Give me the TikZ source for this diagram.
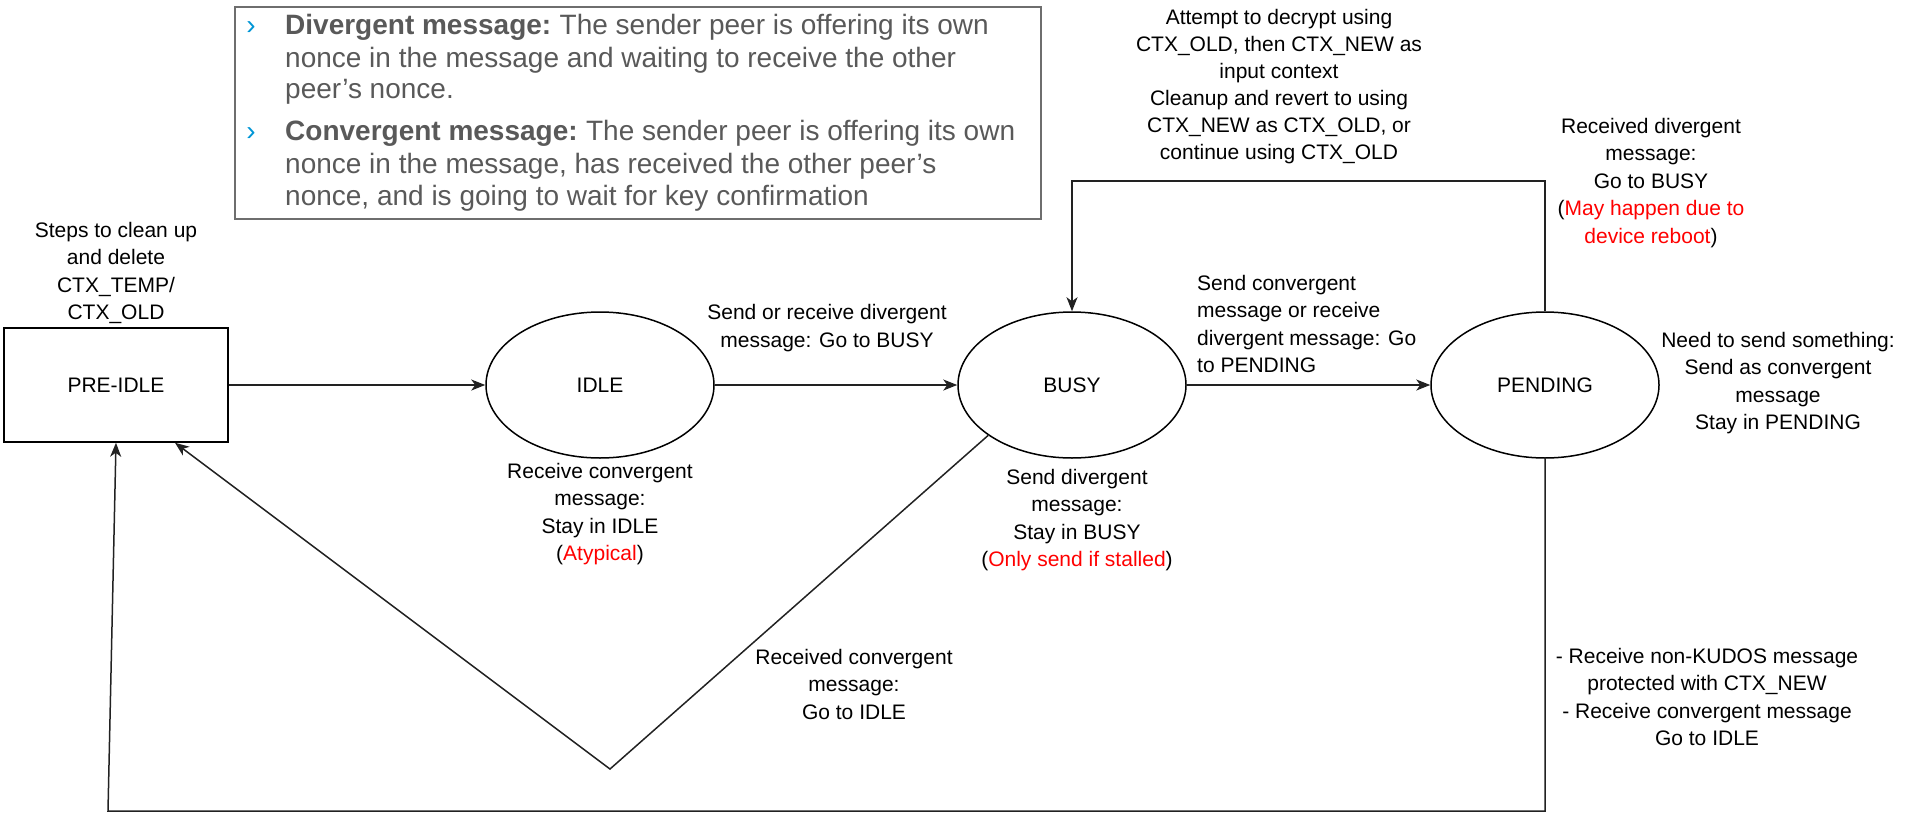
\documentclass[tikz,border=0pt]{standalone}
\usepackage{fontspec}
\setmainfont{Liberation Sans}
\usetikzlibrary{shapes.geometric,arrows.meta,calc}
\definecolor{legtxt}{HTML}{595959}
\definecolor{legblue}{HTML}{0096D6}
\definecolor{legline}{HTML}{6E6E6E}
\definecolor{conline}{HTML}{222222}
\begin{document}
\begin{tikzpicture}[x=1pt,y=-1pt,
  state/.style={draw,ellipse,line width=1.5pt,minimum width=228pt,minimum height=146pt,inner sep=0pt,font=\fontsize{21}{25}\selectfont},
  prebox/.style={draw,rectangle,line width=1.5pt,minimum width=224pt,minimum height=114pt,inner sep=0pt,font=\fontsize{21}{25}\selectfont},
  lbl/.style={align=center,font=\fontsize{21}{27.5}\selectfont,inner sep=0pt},
  arr/.style={draw=conline,line width=1.5pt,-{Stealth[length=14pt,width=11pt,inset=4pt]}},
  leg/.style={anchor=base west,inner sep=0pt,text=legtxt,font=\fontsize{28}{32}\selectfont},
  bul/.style={anchor=base,inner sep=0pt,text=legblue,font=\fontsize{28}{32}\selectfont}
]
\useasboundingbox (0,0) rectangle (1919,814);

% legend
\node[draw=legline,line width=1.5pt,minimum width=806pt,minimum height=212pt,inner sep=0pt,anchor=north west] (legend) at (234,6) {};
\node[bul] (b1) at (251,34) {›};
\node[leg] (l1) at (285,34) {\textbf{Divergent message:}\kern-2pt{} The sender peer is offering its own};
\node[leg] (l2) at (285,67) {nonce in the message and waiting to receive the other};
\node[leg] (l3) at (285,98) {peer’s nonce.};
\node[bul] (b2) at (251,140) {›};
\node[leg] (l4) at (285,140) {\textbf{Convergent message:}\kern-2pt{} The sender peer is offering its own};
\node[leg] (l5) at (285,173) {nonce in the message, has received the other peer’s};
\node[leg] (l6) at (285,205) {nonce, and is going to wait for key confirmation};

% states
\node[prebox] (pre) at (116,385) {PRE-IDLE};
\node[state] (idle) at (600,385) {IDLE};
\node[state] (busy) at (1072,385) {BUSY};
\node[state] (pend) at (1545,385) {PENDING};

% labels
\node[lbl] (tpre) at (116,273) {Steps to clean up\\and delete\\CTX\_TEMP/\\CTX\_OLD};
\node[lbl] (t1) at (827,328) {Send or receive divergent\\message: Go to BUSY};
\node[lbl] (t2) at (600,514) {Receive convergent\\message:\\Stay in IDLE\\(\textcolor{red}{Atypical})};
\node[lbl] (t3) at (1077,520) {Send divergent\\message:\\Stay in BUSY\\(\textcolor{red}{Only send if stalled})};
\node[lbl,align=left,anchor=west] (t4) at (1197,324) {Send convergent\\message or receive\\divergent message: Go\\to PENDING};
\node[lbl,font=\fontsize{21}{27}\selectfont] (t5) at (1279,87) {Attempt to decrypt using\\CTX\_OLD, then CTX\_NEW as\\input context\\Cleanup and revert to using\\CTX\_NEW as CTX\_OLD, or\\continue using CTX\_OLD};
\node[lbl] (t6) at (1651,183) {Received divergent\\message:\\Go to BUSY\\(\textcolor{red}{May happen due to}\\\textcolor{red}{device reboot})};
\node[lbl] (t7) at (1778,383) {Need to send something:\\Send as convergent\\message\\Stay in PENDING};
\node[lbl] (t8) at (854,684) {Received convergent\\message:\\Go to IDLE};
\node[lbl] (t9) at (1707,697) {- Receive non-KUDOS message\\protected with CTX\_NEW\\- Receive convergent message\\Go to IDLE};

% connectors
\coordinate (tl) at (1072,181);
\coordinate (bl) at (108,811);
\coordinate (vb) at (610,769);
\draw[arr] (pre) -- (idle);
\draw[arr] (idle) -- (busy);
\draw[arr] (busy) -- (pend);
\draw[arr] (pend.north) |- (tl) -- (busy.north);
\draw[arr] (pend.south) |- (bl) -- (pre.south);
\draw[arr] (busy.211) -- (vb) -- ([xshift=59pt]pre.south);
\end{tikzpicture}
\end{document}
